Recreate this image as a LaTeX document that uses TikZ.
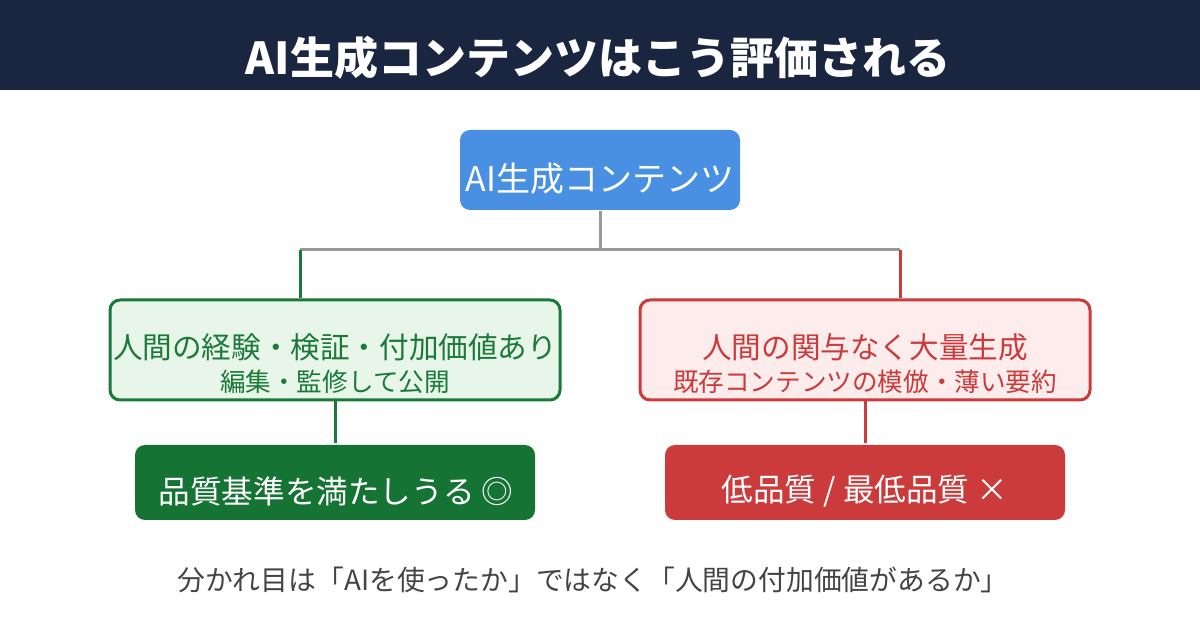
\documentclass[tikz,border=0pt]{standalone}
\usepackage{fontspec}
\setmainfont{Noto Sans CJK JP}
\usetikzlibrary{positioning}
\definecolor{navy}{HTML}{1A2540}
\definecolor{rootblue}{HTML}{4A90E2}
\definecolor{okgreen}{HTML}{1B7A3A}
\definecolor{okfill}{HTML}{E8F5E9}
\definecolor{okdark}{HTML}{157334}
\definecolor{ngred}{HTML}{CC3B3B}
\definecolor{ngfill}{HTML}{FDECEC}
\definecolor{linegray}{HTML}{999999}
\definecolor{foottext}{HTML}{444444}

\tikzset{
  box/.style={rounded corners=5pt, line width=1.5pt, inner sep=0pt},
  txt/.style={inner sep=0pt, align=center},
  big/.style={font=\fontsize{14.8}{20}\selectfont},
  small/.style={font=\fontsize{12.8}{17}\selectfont}
}

\begin{document}
\begin{tikzpicture}[x=0.5pt,y=-0.5pt]
\useasboundingbox (0,0) rectangle (1200,630);
% header band
\fill[navy] (0,0) rectangle (1200,90);
\node[txt,text=white,font=\bfseries\fontsize{22}{28}\selectfont] (title) at (598,58) {AI生成コンテンツはこう評価される};

% boxes
\node[box,fill=rootblue,minimum width=140pt,minimum height=40pt] (root) at (600,170) {};
\node[txt,text=white,font=\fontsize{17}{20}\selectfont] (roottxt) at (600,179) {AI生成コンテンツ};

\node[box,draw=okgreen,fill=okfill,minimum width=225pt,minimum height=50pt] (good) at (335,350) {};
\node[txt,text=okgreen,big] (goodtxt) at (335,347) {人間の経験・検証・付加価値あり};
\node[txt,text=okgreen,small] (goodsub) at (335,382) {編集・監修して公開};

\node[box,draw=ngred,fill=ngfill,minimum width=225pt,minimum height=50pt] (bad) at (865,350) {};
\node[txt,text=ngred,big] (badtxt) at (865,347) {人間の関与なく大量生成};
\node[txt,text=ngred,small] (badsub) at (865,382) {既存コンテンツの模倣・薄い要約};

\node[box,fill=okdark,minimum width=200pt,minimum height=37.5pt] (goodres) at (335,482.5) {};
\node[txt,text=white,font=\fontsize{15.8}{20}\selectfont] (goodrestxt) at (336,491) {品質基準を満たしうる ◎};

\node[box,fill=ngred,minimum width=200pt,minimum height=37.5pt] (badres) at (865,482.5) {};
\node[txt,text=white,font=\fontsize{15.8}{20}\selectfont] (badrestxt) at (865,491) {低品質 / 最低品質 ×};

% connectors
\coordinate (j) at (600,250);
\coordinate (jl) at (300,250);
\coordinate (jr) at (900,250);
\draw[linegray,line width=1.5pt] (root.south) -- (j);
\draw[linegray,line width=1.5pt] (jl) -- (jr);
\draw[okgreen,line width=1.5pt] (jl) -- (jl |- good.north);
\draw[ngred,line width=1.5pt] (jr) -- (jr |- bad.north);
\draw[okgreen,line width=1.5pt] (good.south) -- (goodres.north);
\draw[ngred,line width=1.5pt] (bad.south) -- (badres.north);

% footer
\node[txt,text=foottext,font=\fontsize{13.9}{18}\selectfont] (foot) at (593,580) {分かれ目は「AIを使ったか」ではなく「人間の付加価値があるか」};
\end{tikzpicture}
\end{document}
